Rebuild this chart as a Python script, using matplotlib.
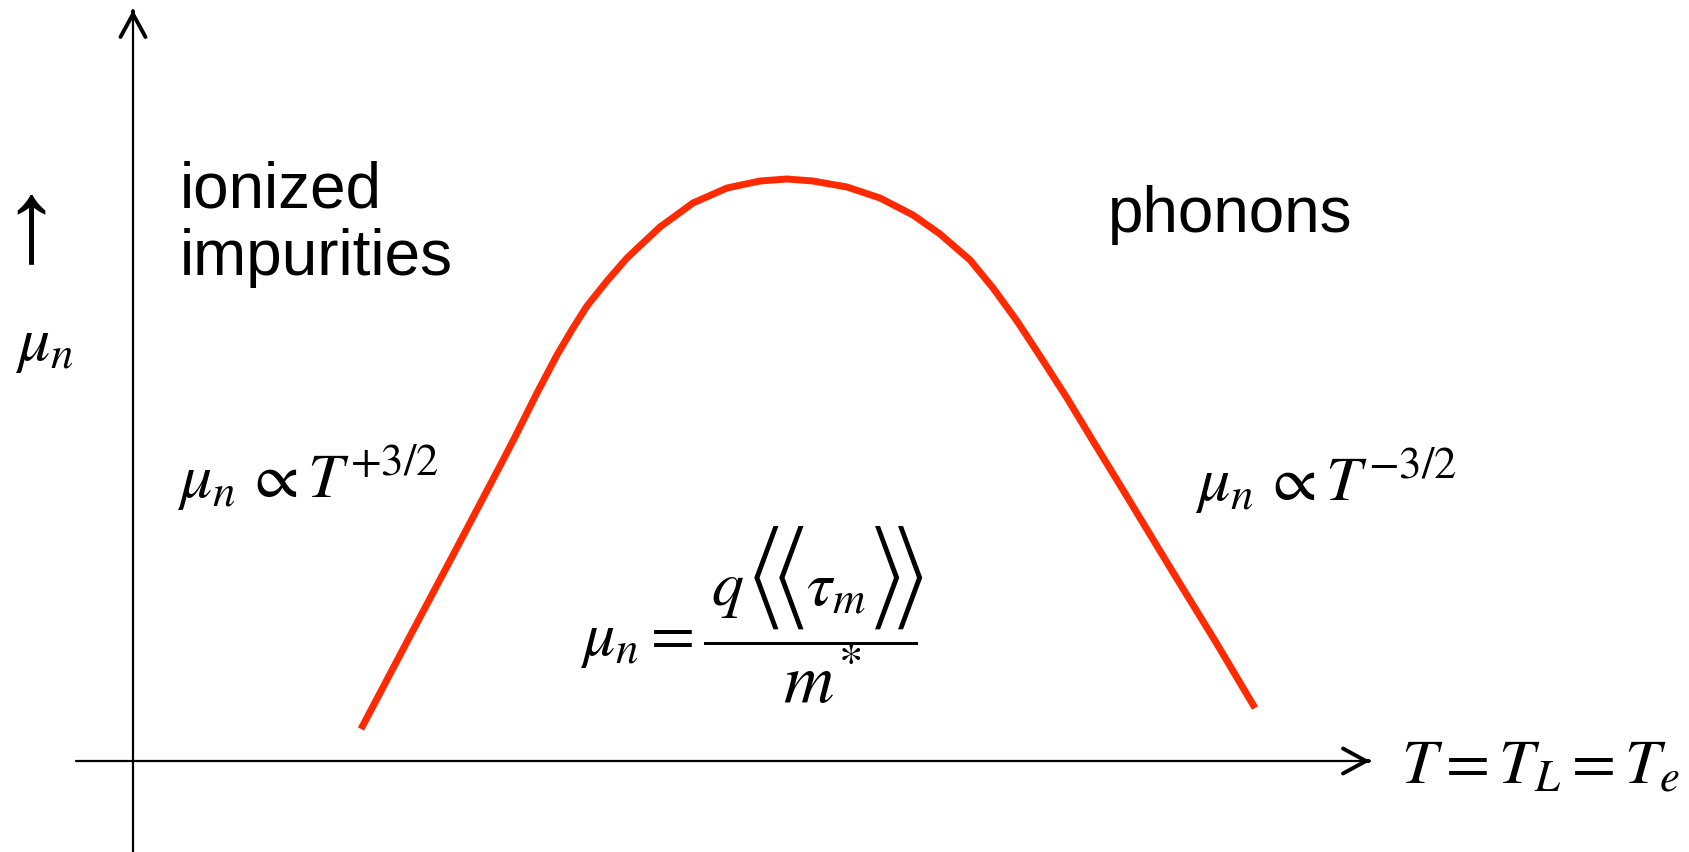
import matplotlib.pyplot as plt

plt.rcParams['mathtext.fontset'] = 'stix'
plt.rcParams['font.family'] = ['Liberation Sans', 'DejaVu Sans']

# electron mobility vs temperature (arbitrary units, origin at the axes crossing)
temperature = [228, 276, 319, 368, 382, 404, 424, 440, 454, 474, 494, 527,
               560, 594, 627, 654, 680, 714, 747, 780, 807, 837, 860, 884,
               907, 934, 960, 987, 1041, 1084, 1122]
mobility = [32, 123, 204, 297, 324, 368, 406, 433, 455, 480, 503, 534,
            558, 573, 580, 582, 580, 574, 563, 546, 527, 501, 473, 440,
            405, 363, 320, 276, 187, 117, 53]

fig = plt.figure(figsize=(16.89, 8.52), dpi=100)
ax = fig.add_axes([0, 0, 1, 1])
ax.set_xlim(-133, 1556)
ax.set_ylim(-91, 761)
ax.axis('off')

# axes: thin shafts with heavier open arrow heads
shaft = dict(arrowstyle='-', lw=1.6, color='black', shrinkA=0, shrinkB=0)
head = dict(arrowstyle='->, head_length=0.55, head_width=0.3', lw=2.8,
            color='black', mutation_scale=30, shrinkA=0, shrinkB=0)
ax.annotate('', xy=(0, 751), xytext=(0, -91), arrowprops=shaft)
ax.annotate('', xy=(0, 751), xytext=(0, 749), arrowprops=head)
ax.annotate('', xy=(1237, 0), xytext=(-57, 0), arrowprops=shaft)
ax.annotate('', xy=(1237, 0), xytext=(1235, 0), arrowprops=head)

ax.plot(temperature, mobility, color='#ff2a00', lw=5,
        solid_capstyle='butt', solid_joinstyle='round')

# labels
ax.text(47, 554, 'ionized', fontsize=46, va='baseline')
ax.text(47, 486, 'impurities', fontsize=46, va='baseline')
ax.text(975, 529, 'phonons', fontsize=46, va='baseline')

ax.text(44, 263, r'$\mu_n\,\propto T^{+3/2}$', fontsize=46, va='baseline')
ax.text(1062, 260, r'$\mu_n\,\propto T^{-3/2}$', fontsize=46, va='baseline')

# mobility formula: fraction bar from mathtext, numerator and denominator set
# piece by piece so the double angle brackets can be drawn tall
# (STIX size-2 delimiters)
ax.text(447, 106, r'$\mu_n = \dfrac{\hspace{4.6}}{\hspace{4.6}}$', fontsize=46,
        va='baseline')
ax.text(578, 156, r'$q$', fontsize=46, va='baseline')
bracket = dict(family='STIXSizeTwoSym', fontsize=40, va='center')
ax.text(616, 184, '\u27e8', **bracket)
ax.text(641, 184, '\u27e8', **bracket)
ax.text(673, 156, r'$\tau_m$', fontsize=46, va='baseline')
ax.text(737, 184, '\u27e9', **bracket)
ax.text(760, 184, '\u27e9', **bracket)
ax.text(650, 58, r'$m^{\!*}$', fontsize=50, va='baseline')

ax.text(1268, -22, r'$T = T_L = T_e$', fontsize=46, va='baseline')
ax.text(-132, 531, '\u2191', fontsize=85, va='center')
ax.text(-118, 401, r'$\mu_n$', fontsize=46, va='baseline')

fig.savefig('out.png', dpi=100)
